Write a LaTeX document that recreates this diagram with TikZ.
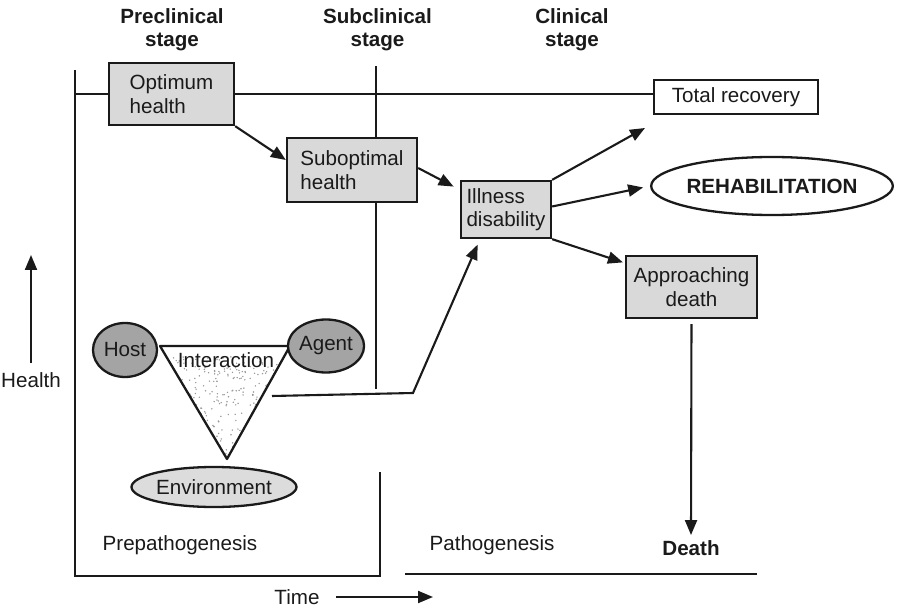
\documentclass[tikz,border=0pt]{standalone}
\usepackage{fontspec}
\setmainfont{Liberation Sans}
\usetikzlibrary{shapes.geometric,arrows.meta,calc}
\definecolor{boxgray}{HTML}{D9D9D9}
\definecolor{dkgray}{HTML}{A4A4A4}
\definecolor{envgray}{HTML}{DCDCDC}
\definecolor{ink}{HTML}{1A1A1A}
\newcommand\fsz{\fontsize{20.6}{23.5}\selectfont}
\begin{document}
\begin{tikzpicture}[x=1pt,y=-1pt, font=\fsz, line width=2.1pt, draw=ink, text=ink,
  box/.style={draw=ink, fill=boxgray, inner sep=0pt, align=left, line width=2.3pt},
  ell/.style={draw=ink, ellipse, inner sep=0pt, line width=2.3pt},
  bold/.style={font=\fsz\bfseries, align=center},
  arr/.style={-{Triangle[length=15pt,width=12pt]}}]
\useasboundingbox (0,0) rectangle (898,607);
% frame lines
\coordinate (L0) at (75,70); \coordinate (L1) at (75,576);
\coordinate (L2) at (380,576); \coordinate (L3) at (380,472);
\draw (L0) -- (L1) -- (L2) -- (L3);
\coordinate (S0) at (376,66); \coordinate (S1) at (376,389);
\draw (S0) -- (S1);
\coordinate (P0) at (405,574); \coordinate (P1) at (757,574);
\draw (P0) -- (P1);
% stage labels
\node[bold] (pre) at (172,29.5) {Preclinical\\stage};
\node[bold] (subc) at (377.5,29.5) {Subclinical\\stage};
\node[bold] (clin) at (572,29.5) {Clinical\\stage};
% boxes
\node[box, minimum width=125pt, minimum height=62pt] (opt) at (171.5,94) {Optimum\\health};
\node[box, fill=white, minimum width=164pt, minimum height=34pt, align=center] (tr) at (736,97) {Total recovery};
\draw (opt.west -| L0) -- (opt.west);
\draw (opt.east) -- (opt.east -| tr.west);
\node[box, minimum width=130pt, minimum height=64pt] (sub) at (352,170) {Suboptimal\\health};
\node[box, minimum width=90pt, minimum height=57pt] (ill) at (506,209.5) {Illness\\disability};
\node[box, align=center, minimum width=131pt, minimum height=62pt] (appr) at (691.5,287) {Approaching\\death};
\node[ell, font=\fsz\bfseries, minimum width=232pt, minimum height=58pt] (reh) at (772,186) {REHABILITATION};
% triangle
\coordinate (T1) at (160,346); \coordinate (T2) at (290,346); \coordinate (T3) at (227,459);
\begin{scope}
\clip (T1) -- (T2) -- (T3) -- cycle;
\pgfmathsetseed{7}
\foreach \i in {1,...,380}{
  \pgfmathsetmacro\rx{160+130*rnd}
  \pgfmathsetmacro\ry{356+103*rnd}
  \fill[gray!80] (\rx,\ry) circle (0.8pt);
}
\end{scope}
\draw[line width=2.3pt, line join=round] (T1) -- (T2) -- (T3) -- cycle;
\node (inter) at (226,360) {Interaction};
\node[ell, fill=dkgray, minimum width=64pt, minimum height=54pt] (host) at (125,350) {Host};
\node[ell, fill=dkgray, minimum width=68pt, minimum height=53pt] (agent) at (326,346) {Agent};
\node[ell, fill=envgray, minimum width=165pt, minimum height=40pt] (env) at (214,487) {Environment};
% arrows
\draw[arr] (opt.south east) -- ([yshift=10pt]sub.west);
\draw[arr, shorten >=7pt] ([yshift=2pt]sub.east) -- ([yshift=-10pt]ill.north west);
\coordinate (up) at (645,128);
\draw[arr] (ill.north east) -- (up);
\draw[arr, shorten >=7pt] ([yshift=3pt]ill.east) -- (reh.west);
\draw[arr, shorten >=2pt] (ill.south east) -- ([yshift=24pt]appr.west);
\node[bold] (death) at (691,548) {Death};
\draw[arr, shorten <=5pt, shorten >=1pt] (appr.south) -- (death.north);
\coordinate (i0) at (272,396); \coordinate (i1) at (413,393);
\draw[arr, shorten >=6pt] (i0) -- (i1) -- ([xshift=-26pt]ill.south);
% axes labels
\node (health) at (31,380) {Health};
\coordinate (hup) at (31,255);
\draw[arr, shorten <=5pt] (health.north) -- (hup);
\node (time) at (297,597) {Time};
\coordinate (tend) at (433,597);
\draw[arr, shorten <=12pt] (time.east) -- (tend);
\node (prep) at (180,545) {Prepathogenesis};
\node (path) at (492,545) {Pathogenesis};
\end{tikzpicture}
\end{document}
